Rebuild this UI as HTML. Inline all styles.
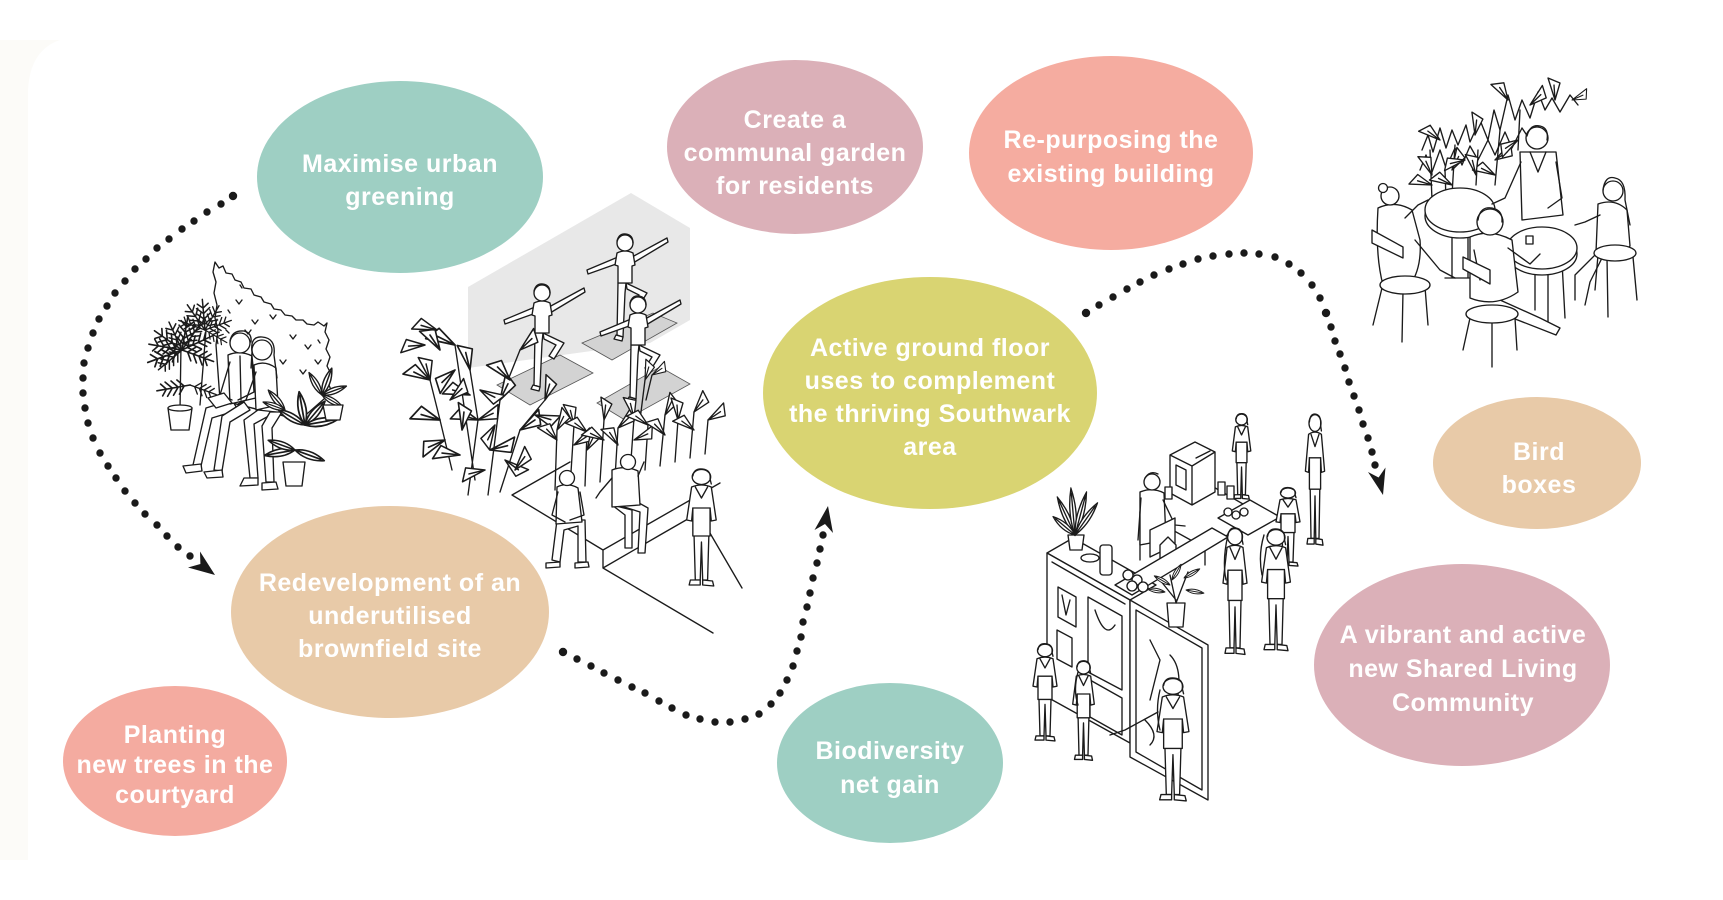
<!DOCTYPE html>
<html><head><meta charset="utf-8"><style>
html,body{margin:0;padding:0;background:#fff;}
svg{display:block;}
text{font-family:"Liberation Sans",Arial,sans-serif;font-weight:bold;font-size:25px;fill:#fff;letter-spacing:0.5px;text-anchor:middle;}
</style></head><body>
<svg width="1723" height="900" viewBox="0 0 1723 900" xmlns="http://www.w3.org/2000/svg">
<defs>
<path id="lf" d="M0,0 Q12,-6 26,0 Q12,6 0,0 Z M2,0 L23,0"/>
<path id="tl" d="M0,0 L22,-7 L17,5 Z M0,0 L15,-1"/>
<path id="pl" d="M0,0 L28,0 M5,0 l5,-6 M10,0 l5,-6 M15,0 l5,-6 M20,0 l4,-5 M5,0 l5,6 M10,0 l5,6 M15,0 l5,6 M20,0 l4,5"/>
<g id="pp">
<path d="M9,68 L10,112 L14,112 L15,74 L16,112 L20,112 L21,68" vector-effect="non-scaling-stroke"/>
<path d="M7,19 Q15,15 23,19 L27,52 L23,53 L22,40 L22,68 L8,68 L8,40 L7,53 L3,52 Z" vector-effect="non-scaling-stroke"/>
<path d="M10,19 L15,30 L20,19 M8,40 L22,40" fill="none" vector-effect="non-scaling-stroke"/>
<circle cx="15" cy="9" r="7.5" vector-effect="non-scaling-stroke"/>
<path d="M8,8 Q9,0 16,1 Q23,2 22,11 L23,16" fill="none" vector-effect="non-scaling-stroke"/>
<path d="M6,112 L14,112 L14,117 L5,117 Z M16,112 L24,113 L25,118 L16,117 Z" vector-effect="non-scaling-stroke"/>
</g>
<g id="yg">
<path d="M-7,40 L-8,92 L-2,94 L0,50 L1,40 Z"/>
<path d="M1,40 L22,50 L12,66 L7,63 L14,52 L2,46 Z"/>
<path d="M-9,92 L-2,94 L-3,98 L-11,96 Z"/>
<path d="M-7,14 L-38,27 L-37,31 L-6,20 Z M7,14 L42,-5 L43,-1 L8,20 Z"/>
<path d="M-8,10 Q0,6 8,10 L10,22 L7,23 L7,40 L-7,40 L-7,23 L-10,22 Z"/>
<circle r="8"/>
<path d="M-8,-2 Q-6,-10 1,-9 Q8,-8 8,0" fill="none"/>
</g>
</defs>

<!-- faint left strip -->
<path d="M0,40 L60,40 Q30,50 28,90 L28,860 L0,860 Z" fill="#fcfbf8"/>

<!-- ===== Couple drawing ===== -->
<g stroke="#1b1b1b" stroke-width="1.35" fill="#fff" stroke-linejoin="round" stroke-linecap="round">
<path d="M215,262 L219,268 L223,266 L226,273 L232,274 L235,280 L241,282 L244,288 L251,289 L254,295 L261,297 L264,302 L271,304 L274,309 L281,310 L285,315 L292,316 L296,320 L303,320 L307,324 L314,325 L318,322 L324,326 L327,323 L325,332 L329,340 L326,349 L330,357 L327,366 L331,374 L328,383 L332,392 L300,420 L220,400 L216,345 L218,330 L215,318 L217,305 L214,293 L216,282 L213,272 Z"/>
<g fill="none">
<path d="M236,300 l3,4 l3,-4 M252,320 l3,4 l3,-4 M270,315 l3,4 l3,-4 M290,335 l3,4 l3,-4 M305,345 l3,4 l3,-4 M262,345 l3,4 l3,-4 M245,330 l3,4 l3,-4 M300,370 l3,4 l3,-4 M315,360 l3,4 l3,-4 M280,360 l3,4 l3,-4 M228,310 l2,3 M240,285 l2,3 M318,340 l2,3 M226,330 l3,3"/>
<path d="M181,345 L180,410 M206,330 L200,405"/>
</g>
<g fill="none">
<use href="#pl" transform="translate(182,350) rotate(190) scale(1.2)"/>
<use href="#pl" transform="translate(182,350) rotate(215) scale(1.2)"/>
<use href="#pl" transform="translate(182,350) rotate(245) scale(1.1)"/>
<use href="#pl" transform="translate(182,350) rotate(280) scale(1.2)"/>
<use href="#pl" transform="translate(182,350) rotate(305) scale(1.1)"/>
<use href="#pl" transform="translate(182,350) rotate(335) scale(1.2)"/>
<use href="#pl" transform="translate(182,350) rotate(20) scale(1.2)"/>
<use href="#pl" transform="translate(182,350) rotate(160) scale(1.3)"/>
<use href="#pl" transform="translate(182,350) rotate(140) scale(1.1)"/>
<use href="#pl" transform="translate(205,330) rotate(200) scale(1)"/>
<use href="#pl" transform="translate(205,330) rotate(235) scale(1.1)"/>
<use href="#pl" transform="translate(205,330) rotate(265) scale(1.1)"/>
<use href="#pl" transform="translate(205,330) rotate(300) scale(1)"/>
<use href="#pl" transform="translate(205,330) rotate(340) scale(1)"/>
<use href="#pl" transform="translate(205,330) rotate(30) scale(0.9)"/>
<use href="#pl" transform="translate(190,385) rotate(170) scale(1.2)"/>
<use href="#pl" transform="translate(190,385) rotate(20) scale(1)"/>
</g>
<path d="M168,408 L192,408 L189,430 L171,430 Z"/>
<ellipse cx="180" cy="408" rx="12" ry="3"/>
<!-- man -->
<path d="M232,400 L206,408 L193,465 L201,466 L212,418 L238,410 Z"/>
<path d="M244,402 L222,416 L214,470 L222,471 L230,422 L250,410 Z"/>
<path d="M183,466 L201,464 L202,471 L186,473 Z M204,472 L222,470 L223,477 L207,478 Z"/>
<path d="M228,355 Q240,350 252,356 L256,398 L230,404 Z"/>
<path d="M230,362 L220,395 L232,400 M252,362 L254,392 L238,400 M240,356 L241,400" fill="none"/>
<circle cx="240" cy="343" r="10"/>
<path d="M230,341 Q232,330 244,331 Q252,333 251,342" fill="none"/>
<path d="M208,398 L224,393 L232,403 L216,408 Z"/>
<!-- woman -->
<path d="M258,410 L244,420 L250,478 L258,478 L254,424 L276,412 Z"/>
<path d="M270,412 L262,426 L266,482 L274,482 L272,428 L282,412 Z"/>
<path d="M244,478 L258,478 L258,485 L240,486 Z M262,483 L276,482 L278,489 L262,490 Z"/>
<path d="M254,365 Q265,360 276,368 L278,405 L256,410 Z"/>
<circle cx="262" cy="350" r="10"/>
<path d="M252,352 Q250,336 262,337 Q276,338 274,355 L277,378 M252,352 L251,368 M256,372 L246,400 L238,404" fill="none"/>
<!-- right plants -->
<g>
<use href="#lf" transform="translate(305,425) rotate(-150) scale(1.2)"/>
<use href="#lf" transform="translate(305,425) rotate(-100) scale(1.3)"/>
<use href="#lf" transform="translate(305,425) rotate(-50) scale(1.2)"/>
<use href="#lf" transform="translate(305,425) rotate(-10) scale(1.3)"/>
<use href="#lf" transform="translate(295,450) rotate(170) scale(1.2)"/>
<use href="#lf" transform="translate(295,450) rotate(200) scale(1.1)"/>
<use href="#lf" transform="translate(295,450) rotate(20) scale(1.2)"/>
<use href="#lf" transform="translate(322,395) rotate(-120) scale(1)"/>
<use href="#lf" transform="translate(322,395) rotate(-70) scale(1.1)"/>
<use href="#lf" transform="translate(322,395) rotate(-20) scale(1)"/>
<use href="#lf" transform="translate(322,395) rotate(30) scale(0.9)"/>
<use href="#lf" transform="translate(285,410) rotate(-130) scale(1)"/>
<use href="#lf" transform="translate(285,410) rotate(-160) scale(0.9)"/>
</g>
<path d="M283,462 L305,462 L302,486 L286,486 Z"/>
<path d="M323,405 L343,405 L340,420 L326,420 Z"/>
</g>

<!-- ===== Yoga drawing ===== -->
<path d="M468,287 L631,193 L690,228 L690,320 L650,343 L468,368 Z" fill="#e8e8e8"/>
<g stroke="#555" stroke-width="0.8">
<path d="M497,385 L560,355 L593,373 L530,405 Z" fill="#d3d3d3"/>
<path d="M582,343 L653,313 L677,323 L612,360 Z" fill="#d3d3d3"/>
<path d="M597,403 L660,367 L690,384 L625,420 Z" fill="#d3d3d3"/>
</g>
<g stroke="#1b1b1b" stroke-width="1.35" fill="#fff" stroke-linejoin="round" stroke-linecap="round">
<use href="#yg" transform="translate(542,293)"/>
<use href="#yg" transform="translate(625,243)"/>
<use href="#yg" transform="translate(638,305)"/>
<!-- bench / steps -->
<path d="M512,495 L603,550 L603,568 M603,550 L720,483 M512,495 L570,462 M603,568 L660,535 M603,568 L713,633 M707,528 L742,588 M660,535 L700,512" fill="none"/>
<!-- plants left -->
<path d="M468,495 L478,420 L470,370 M488,495 L500,400 L520,350 M452,470 L440,420 L430,380 M500,492 L520,430 L545,400 M475,480 L455,345" fill="none"/>
<g>
<use href="#tl" transform="translate(470,370) rotate(-100) scale(1.2)"/>
<use href="#tl" transform="translate(478,420) rotate(-160) scale(1.2)"/>
<use href="#tl" transform="translate(478,420) rotate(-20) scale(1.1)"/>
<use href="#tl" transform="translate(470,395) rotate(200) scale(1.2)"/>
<use href="#tl" transform="translate(500,400) rotate(-60) scale(1.2)"/>
<use href="#tl" transform="translate(520,350) rotate(-40) scale(1.1)"/>
<use href="#tl" transform="translate(510,380) rotate(-130) scale(1.2)"/>
<use href="#tl" transform="translate(440,420) rotate(200) scale(1.3)"/>
<use href="#tl" transform="translate(430,380) rotate(-150) scale(1.2)"/>
<use href="#tl" transform="translate(430,380) rotate(-100) scale(1.1)"/>
<use href="#tl" transform="translate(445,440) rotate(160) scale(1.2)"/>
<use href="#tl" transform="translate(520,430) rotate(-30) scale(1.2)"/>
<use href="#tl" transform="translate(545,400) rotate(-70) scale(1.1)"/>
<use href="#tl" transform="translate(535,415) rotate(20) scale(1.1)"/>
<use href="#tl" transform="translate(460,455) rotate(190) scale(1.2)"/>
<use href="#tl" transform="translate(490,450) rotate(-10) scale(1.2)"/>
<use href="#tl" transform="translate(455,345) rotate(-150) scale(1.3)"/>
<use href="#tl" transform="translate(440,350) rotate(-120) scale(1.2)"/>
<use href="#tl" transform="translate(425,345) rotate(180) scale(1.1)"/>
<use href="#tl" transform="translate(505,460) rotate(40) scale(1.1)"/>
<use href="#tl" transform="translate(462,430) rotate(-80) scale(1.2)"/>
<use href="#tl" transform="translate(485,470) rotate(170) scale(1.1)"/>
<use href="#tl" transform="translate(515,470) rotate(-50) scale(1.1)"/>
<use href="#tl" transform="translate(437,330) rotate(-160) scale(1.1)"/>
<use href="#tl" transform="translate(455,370) rotate(140) scale(1.2)"/>
<use href="#tl" transform="translate(495,425) rotate(120) scale(1.1)"/>
<use href="#tl" transform="translate(480,390) rotate(30) scale(1.1)"/>
<use href="#tl" transform="translate(450,400) rotate(-40) scale(1.1)"/>
</g>
<!-- plants row -->
<path d="M555,490 L557,430 M570,488 L574,425 M585,486 L587,432 M600,482 L604,420 M615,478 L618,428 M630,474 L634,418 M645,470 L648,425 M660,466 L665,415 M675,462 L678,420 M690,458 L694,412 M705,454 L708,420 M640,420 L645,380 M646,400 L652,375" fill="none"/>
<g>
<use href="#tl" transform="translate(557,430) rotate(-60)"/>
<use href="#tl" transform="translate(557,440) rotate(-130)"/>
<use href="#tl" transform="translate(574,425) rotate(-100)"/>
<use href="#tl" transform="translate(574,445) rotate(-30)"/>
<use href="#tl" transform="translate(587,432) rotate(-140)"/>
<use href="#tl" transform="translate(587,450) rotate(-60)"/>
<use href="#tl" transform="translate(604,420) rotate(-80)"/>
<use href="#tl" transform="translate(604,440) rotate(-150)"/>
<use href="#tl" transform="translate(618,428) rotate(-40)"/>
<use href="#tl" transform="translate(618,445) rotate(-120)"/>
<use href="#tl" transform="translate(634,418) rotate(-100)"/>
<use href="#tl" transform="translate(634,440) rotate(-20)"/>
<use href="#tl" transform="translate(648,425) rotate(-140)"/>
<use href="#tl" transform="translate(665,415) rotate(-60)"/>
<use href="#tl" transform="translate(665,435) rotate(-130)"/>
<use href="#tl" transform="translate(678,420) rotate(-90)"/>
<use href="#tl" transform="translate(694,412) rotate(-50)"/>
<use href="#tl" transform="translate(694,430) rotate(-140)"/>
<use href="#tl" transform="translate(708,420) rotate(-30)"/>
<use href="#tl" transform="translate(645,380) rotate(-70) scale(0.9)"/>
<use href="#tl" transform="translate(652,375) rotate(-30) scale(0.8)"/>
</g>
<!-- seated people -->
<path d="M557,520 L552,560 L560,562 L564,530 L578,526 L578,562 L586,562 L585,520 Z"/>
<path d="M557,487 Q567,482 578,488 L582,522 L556,524 Z"/>
<path d="M558,492 L552,515 L565,522 M580,492 L584,515 L570,520" fill="none"/>
<circle cx="567" cy="478" r="7.5"/>
<path d="M546,563 L560,562 L560,567 L546,568 Z M575,563 L588,562 L589,567 L575,568 Z"/>
<path d="M618,505 L640,512 L638,553 L645,553 L648,508 L630,498 Z M612,505 L625,515 L625,548 L632,548 L632,510 Z"/>
<path d="M612,470 Q625,465 638,471 L640,505 L612,507 Z"/>
<path d="M612,478 L600,492 L596,498 M638,476 L644,462" fill="none"/>
<circle cx="628" cy="462" r="7.5"/>
<use href="#pp" transform="translate(683,468) scale(1.23,1)"/>
</g>

<!-- ===== Cafe tables drawing ===== -->
<g stroke="#1b1b1b" stroke-width="1.35" fill="#fff" stroke-linejoin="round" stroke-linecap="round">
<path d="M1422,150 L1428,135 L1433,152 L1440,128 L1446,148 L1452,130 L1458,145 L1466,125 L1470,142 L1480,120 L1488,140 L1494,110 L1500,130 L1508,95 L1515,120 L1522,100 L1530,118 L1538,92 L1545,110 L1552,98 L1560,112 L1570,95 L1578,105" fill="none"/>
<path d="M1420,170 L1426,155 L1432,172 L1440,150 L1446,168 L1455,148 L1462,165 L1470,146 L1478,160 L1488,140 L1495,155 L1505,132 L1512,148 L1522,128 L1530,140" fill="none"/>
<path d="M1430,150 L1432,200 M1455,145 L1452,195 M1500,130 L1495,185 M1520,110 L1518,150 M1445,170 L1446,200 M1478,150 L1476,185" fill="none"/>
<g>
<use href="#tl" transform="translate(1432,175) rotate(-110)"/>
<use href="#tl" transform="translate(1432,185) rotate(200)"/>
<use href="#tl" transform="translate(1452,170) rotate(-60)"/>
<use href="#tl" transform="translate(1452,185) rotate(-150)"/>
<use href="#tl" transform="translate(1495,160) rotate(-30)"/>
<use href="#tl" transform="translate(1495,175) rotate(210)"/>
<use href="#tl" transform="translate(1475,135) rotate(-80)"/>
<use href="#tl" transform="translate(1508,100) rotate(-120)"/>
<use href="#tl" transform="translate(1530,105) rotate(-40)"/>
<use href="#tl" transform="translate(1555,100) rotate(-90)"/>
<use href="#tl" transform="translate(1572,100) rotate(-20) scale(0.8)"/>
<use href="#tl" transform="translate(1440,140) rotate(-140)"/>
<use href="#tl" transform="translate(1518,140) rotate(150)"/>
<use href="#tl" transform="translate(1476,175) rotate(-100)"/>
<use href="#tl" transform="translate(1465,160) rotate(170)"/>
</g>
<!-- table1 -->
<path d="M1452,232 L1452,278 M1468,232 L1468,278 M1445,278 L1475,278" fill="none"/>
<ellipse cx="1460" cy="216" rx="35" ry="22"/>
<ellipse cx="1460" cy="210" rx="35" ry="22"/>
<!-- standing man -->
<path d="M1520,152 L1556,152 L1563,215 L1522,220 Z"/>
<path d="M1530,152 L1538,172 L1546,152" fill="none"/>
<path d="M1521,162 L1505,198 L1492,204 M1556,162 L1562,198 L1548,208" fill="none"/>
<circle cx="1537" cy="138" r="11"/>
<path d="M1527,136 Q1530,124 1540,126 Q1549,128 1547,140" fill="none"/>
<!-- table2 -->
<path d="M1535,268 L1535,310 M1548,268 L1548,322 M1562,262 L1565,318" fill="none"/>
<ellipse cx="1542" cy="254" rx="35" ry="21"/>
<ellipse cx="1542" cy="248" rx="35" ry="21"/>
<rect x="1526" y="236" width="7" height="8"/>
<!-- person1 + chair1 -->
<path d="M1382,288 L1373,325 M1403,291 L1402,342 M1425,287 L1428,325" fill="none"/>
<path d="M1378,208 Q1395,200 1412,210 L1420,240 Q1422,268 1410,285 L1383,285 Q1375,255 1378,208 Z"/>
<path d="M1405,218 L1418,205 L1428,200 M1415,240 L1440,270 L1455,278" fill="none"/>
<ellipse cx="1405" cy="285" rx="25" ry="9"/>
<path d="M1372,230 L1403,247 L1403,258 L1372,243 Z"/>
<circle cx="1390" cy="196" r="9"/><circle cx="1383" cy="188" r="4.5"/>
<!-- person2 + chair2 -->
<path d="M1470,318 L1463,350 M1492,321 L1492,367 M1515,318 L1517,350" fill="none"/>
<path d="M1500,300 L1540,318 L1560,328 L1556,335 L1505,315" />
<path d="M1470,237 Q1490,228 1512,240 L1518,292 Q1495,308 1470,298 Z"/>
<path d="M1508,248 L1530,264 L1540,254 M1474,250 L1480,280" fill="none"/>
<ellipse cx="1492" cy="314" rx="26" ry="9"/>
<path d="M1463,257 L1490,270 L1490,284 L1463,269 Z"/>
<circle cx="1490" cy="222" r="13"/>
<path d="M1478,220 Q1480,206 1492,208 Q1503,210 1502,222" fill="none"/>
<!-- person4 + chair4 -->
<path d="M1607,258 L1608,317 M1633,257 L1637,300 M1598,255 L1595,290" fill="none"/>
<path d="M1600,250 L1575,275 L1575,300 M1605,252 L1590,282 L1585,305" fill="none"/>
<path d="M1598,204 Q1615,198 1627,210 L1630,246 Q1615,262 1596,252 Z"/>
<path d="M1600,215 L1585,222 L1575,225" fill="none"/>
<ellipse cx="1615" cy="253" rx="21" ry="8"/>
<circle cx="1613" cy="191" r="10"/>
<path d="M1603,190 Q1605,175 1615,178 Q1626,180 1625,200 L1630,225" fill="none"/>
</g>

<!-- ===== Bar drawing ===== -->
<g stroke="#1b1b1b" stroke-width="1.35" fill="#fff" stroke-linejoin="round" stroke-linecap="round">
<use href="#pp" transform="translate(1230,413) scale(0.77,0.73)"/>
<use href="#pp" transform="translate(1303,413) scale(0.8,1.12)"/>
<path d="M1140,512 L1198,478 L1262,515 L1205,548 Z"/>
<path d="M1140,512 L1140,560 M1205,548 L1205,565" fill="none"/>
<path d="M1218,518 L1250,500 L1280,517 L1248,535 Z"/>
<path d="M1170,455 L1195,442 L1215,452 L1215,492 L1192,505 L1170,493 Z M1170,455 L1192,466 L1215,452 M1192,466 L1192,505"/>
<path d="M1176,465 L1186,470 L1186,490 L1176,485 Z M1196,458 L1210,451" fill="none"/>
<rect x="1165" y="487" width="7" height="12"/><rect x="1218" y="482" width="7" height="13"/><rect x="1227" y="486" width="7" height="13"/>
<use href="#pp" transform="translate(1273,487) scale(1,0.67)"/>
<path d="M1140,492 Q1152,487 1164,493 L1166,540 L1140,545 Z"/>
<path d="M1141,498 L1138,540 M1163,500 L1175,525 L1185,526" fill="none"/>
<circle cx="1152" cy="482" r="8"/>
<path d="M1145,478 Q1150,470 1158,474" fill="none"/>
<path d="M1150,530 L1175,518 L1175,545 L1150,557 Z"/>
<path d="M1160,545 L1168,537 L1176,545 L1176,560 L1160,560 Z"/>
<path d="M1047,553 L1073,538 L1156,585 L1130,600 Z"/>
<path d="M1115,585 L1212,528 L1228,537 L1132,595 Z"/>
<path d="M1047,553 L1130,600 L1130,743 L1047,697 Z"/>
<path d="M1052,562 L1125,604 M1058,587 L1076,597 L1076,627 L1058,617 Z M1057,630 L1072,638 L1072,667 L1057,659 Z M1088,597 L1122,616 L1122,690 L1088,672 Z M1090,680 L1122,698 L1122,735 L1090,717 Z M1062,595 L1066,615 L1070,600 M1095,610 Q1105,640 1115,625" fill="none"/>
<path d="M1130,600 L1208,645 L1208,800 L1130,757 Z"/>
<path d="M1136,610 L1202,648 L1202,790 L1136,752 Z" fill="none"/>
<path d="M1150,640 L1160,660 L1150,700 M1170,655 Q1185,670 1175,710 M1145,720 Q1160,735 1150,745" fill="none"/>
<rect x="1100" y="545" width="12" height="30" rx="3"/>
<ellipse cx="1090" cy="558" rx="9" ry="4"/>
<path d="M1068,535 L1084,535 L1082,550 L1070,550 Z"/>
<g fill="#fff">
<use href="#lf" transform="translate(1075,535) rotate(-115) scale(1.6,1)"/>
<use href="#lf" transform="translate(1075,535) rotate(-95) scale(1.8,1)"/>
<use href="#lf" transform="translate(1075,535) rotate(-75) scale(1.7,1)"/>
<use href="#lf" transform="translate(1075,535) rotate(-55) scale(1.5,1)"/>
<use href="#lf" transform="translate(1075,535) rotate(-140) scale(1.1,1)"/>
</g>
<path d="M1167,603 L1185,603 L1183,627 L1169,627 Z"/>
<path d="M1176,603 L1170,575 M1176,603 L1188,572 M1176,600 L1160,580" fill="none"/>
<use href="#lf" transform="translate(1170,585) rotate(-150) scale(0.7)"/>
<use href="#lf" transform="translate(1172,580) rotate(-60) scale(0.7)"/>
<use href="#lf" transform="translate(1184,578) rotate(-30) scale(0.7)"/>
<use href="#lf" transform="translate(1186,590) rotate(10) scale(0.7)"/>
<use href="#lf" transform="translate(1165,592) rotate(190) scale(0.7)"/>
<circle cx="1128" cy="575" r="5"/><circle cx="1137" cy="580" r="5"/><circle cx="1132" cy="586" r="5"/><circle cx="1143" cy="587" r="5"/>
<circle cx="1228" cy="512" r="4"/><circle cx="1236" cy="515" r="4"/><circle cx="1244" cy="512" r="4"/>
<use href="#pp" transform="translate(1220,527) scale(1,1.08)"/>
<use href="#pp" transform="translate(1258,528) scale(1.2,1.04)"/>
<use href="#pp" transform="translate(1030,643) scale(1,0.83)"/>
<use href="#pp" transform="translate(1070,660) scale(0.9,0.85)"/>
<use href="#pp" transform="translate(1153,677) scale(1.33,1.05)"/>
<path d="M1158,712 L1125,730 L1110,735" fill="none"/>
<path d="M1228,535 Q1222,560 1226,580 M1264,535 Q1258,555 1262,575 M1160,690 Q1155,710 1160,730 M1078,672 Q1073,690 1078,705" fill="none"/>
</g>

<!-- ===== Ellipses ===== -->
<ellipse cx="400" cy="177" rx="143" ry="96" fill="#9ecfc3"/>
<ellipse cx="795" cy="147" rx="128" ry="87" fill="#dbb0b8"/>
<ellipse cx="1111" cy="153" rx="142" ry="97" fill="#f5aca0"/>
<ellipse cx="930" cy="393" rx="167" ry="116" fill="#d9d472"/>
<ellipse cx="390" cy="612" rx="159" ry="106" fill="#e8caa8"/>
<ellipse cx="175" cy="761" rx="112" ry="75" fill="#f4aba0"/>
<ellipse cx="890" cy="763" rx="113" ry="80" fill="#9ecfc3"/>
<ellipse cx="1537" cy="463" rx="104" ry="66" fill="#e8caa8"/>
<ellipse cx="1462" cy="665" rx="148" ry="101" fill="#dbb0b8"/>

<!-- ===== Labels ===== -->
<text x="400" y="172">Maximise urban</text>
<text x="400" y="205">greening</text>
<text x="795" y="128">Create a</text>
<text x="795" y="161">communal garden</text>
<text x="795" y="194">for residents</text>
<text x="1111" y="148">Re-purposing the</text>
<text x="1111" y="182">existing building</text>
<text x="930" y="356">Active ground floor</text>
<text x="930" y="389">uses to complement</text>
<text x="930" y="422">the thriving Southwark</text>
<text x="930" y="455">area</text>
<text x="390" y="591">Redevelopment of an</text>
<text x="390" y="624">underutilised</text>
<text x="390" y="657">brownfield site</text>
<text x="175" y="743">Planting</text>
<text x="175" y="773">new trees in the</text>
<text x="175" y="803">courtyard</text>
<text x="890" y="759">Biodiversity</text>
<text x="890" y="793">net gain</text>
<text x="1539" y="460">Bird</text>
<text x="1539" y="493">boxes</text>
<text x="1463" y="643">A vibrant and active</text>
<text x="1463" y="677">new Shared Living</text>
<text x="1463" y="711">Community</text>

<!-- ===== Dotted connectors ===== -->
<g fill="#1a1a1a">
<circle cx="233" cy="196" r="4.2"/><circle cx="221" cy="204" r="3.7"/><circle cx="207" cy="212" r="3.7"/><circle cx="194" cy="221" r="3.7"/><circle cx="182" cy="229" r="3.7"/><circle cx="169" cy="239" r="3.7"/><circle cx="157" cy="248" r="3.7"/><circle cx="146" cy="259" r="3.7"/><circle cx="135" cy="269" r="3.7"/><circle cx="125" cy="281" r="3.7"/><circle cx="115" cy="293" r="3.7"/><circle cx="107" cy="306" r="3.7"/><circle cx="99" cy="319" r="3.7"/><circle cx="93" cy="333" r="3.7"/><circle cx="88" cy="348" r="3.7"/><circle cx="84" cy="363" r="3.7"/><circle cx="83" cy="378" r="3.7"/><circle cx="83" cy="393" r="3.7"/><circle cx="85" cy="408" r="3.7"/><circle cx="88" cy="423" r="3.7"/><circle cx="93" cy="438" r="3.7"/><circle cx="100" cy="453" r="3.7"/><circle cx="108" cy="466" r="3.7"/><circle cx="116" cy="478" r="3.7"/><circle cx="125" cy="491" r="3.7"/><circle cx="135" cy="503" r="3.7"/><circle cx="145" cy="514" r="3.7"/><circle cx="157" cy="525" r="3.7"/><circle cx="167" cy="536" r="3.7"/><circle cx="178" cy="547" r="3.7"/><circle cx="190" cy="556" r="3.7"/>
<path d="M215,575 L188,567.5 L200.4,564 L200,551.5 Z"/>

<circle cx="563" cy="652" r="4.2"/><circle cx="577" cy="659" r="3.7"/><circle cx="591" cy="666" r="3.7"/><circle cx="604" cy="673" r="3.7"/><circle cx="618" cy="680" r="3.7"/><circle cx="632" cy="687" r="3.7"/><circle cx="645" cy="693" r="3.7"/><circle cx="659" cy="701" r="3.7"/><circle cx="672" cy="708" r="3.7"/><circle cx="686" cy="715" r="3.7"/><circle cx="700" cy="719" r="3.7"/><circle cx="715" cy="722" r="3.7"/><circle cx="730" cy="722" r="3.7"/><circle cx="745" cy="719" r="3.7"/><circle cx="759" cy="714" r="3.7"/><circle cx="771" cy="704" r="3.7"/><circle cx="780" cy="693" r="3.7"/><circle cx="787" cy="680" r="3.7"/><circle cx="793" cy="666" r="3.7"/><circle cx="797" cy="651" r="3.7"/><circle cx="801" cy="637" r="3.7"/><circle cx="803" cy="622" r="3.7"/><circle cx="807" cy="607" r="3.7"/><circle cx="810" cy="593" r="3.7"/><circle cx="813" cy="578" r="3.7"/><circle cx="817" cy="563" r="3.7"/><circle cx="820" cy="549" r="3.7"/><circle cx="823" cy="535" r="3.7"/>
<path d="M828,506 L833,533 L825,524 L814.5,530 Z"/>

<circle cx="1086" cy="313" r="4.2"/><circle cx="1099" cy="305" r="3.7"/><circle cx="1113" cy="297" r="3.7"/><circle cx="1127" cy="289" r="3.7"/><circle cx="1140" cy="282" r="3.7"/><circle cx="1154" cy="275" r="3.7"/><circle cx="1169" cy="269" r="3.7"/><circle cx="1183" cy="264" r="3.7"/><circle cx="1198" cy="259" r="3.7"/><circle cx="1213" cy="256" r="3.7"/><circle cx="1229" cy="254" r="3.7"/><circle cx="1244" cy="253" r="3.7"/><circle cx="1259" cy="254" r="3.7"/><circle cx="1275" cy="257" r="3.7"/><circle cx="1289" cy="264" r="3.7"/><circle cx="1301" cy="273" r="3.7"/><circle cx="1312" cy="285" r="3.7"/><circle cx="1320" cy="298" r="3.7"/><circle cx="1326" cy="313" r="4.2"/><circle cx="1331" cy="327" r="3.7"/><circle cx="1335" cy="341" r="3.7"/><circle cx="1340" cy="354" r="3.7"/><circle cx="1345" cy="368" r="3.7"/><circle cx="1349" cy="382" r="3.7"/><circle cx="1354" cy="396" r="3.7"/><circle cx="1359" cy="410" r="3.7"/><circle cx="1363" cy="424" r="3.7"/><circle cx="1368" cy="438" r="3.7"/><circle cx="1372" cy="452" r="3.7"/><circle cx="1375" cy="465" r="3.7"/>
<path d="M1383,495 L1368,472 L1378.6,477.5 L1385.5,467.5 Z"/>
</g>
</svg>
</body></html>
